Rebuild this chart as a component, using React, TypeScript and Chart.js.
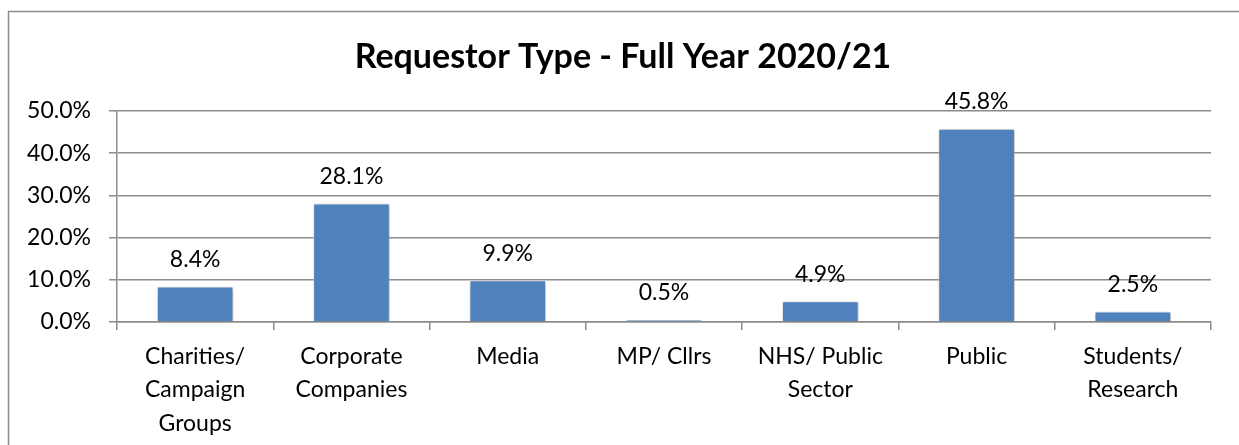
import React, { useEffect, useRef } from "react";
import { Chart, registerables } from "chart.js";

Chart.register(...registerables);

const categories: string[][] = [
  ["Charities/", "Campaign", "Groups"],
  ["Corporate", "Companies"],
  ["Media"],
  ["MP/ Cllrs"],
  ["NHS/ Public", "Sector"],
  ["Public"],
  ["Students/", "Research"],
];
const values: number[] = [8.4, 28.1, 9.9, 0.5, 4.9, 45.8, 2.5];
const yTicks: number[] = [0, 10, 20, 30, 40, 50];
const titleText = "Requestor Type - Full Year 2020/21";

const FONT = "Lato, 'Liberation Sans', sans-serif";

export default function App() {
  const ref = useRef<HTMLCanvasElement | null>(null);

  useEffect(() => {
    document.body.style.margin = "0";
    const canvas = ref.current!;
    const frame = {
      id: "frame",
      beforeDraw(chart: any) {
        const ctx = chart.ctx;
        ctx.save();
        ctx.fillStyle = "#ffffff";
        ctx.fillRect(0, 0, chart.width, chart.height);
        ctx.strokeStyle = "#8c8c8c";
        ctx.lineWidth = 1.5;
        ctx.beginPath();
        ctx.moveTo(8.5, chart.height);
        ctx.lineTo(8.5, 11.5);
        ctx.lineTo(chart.width, 11.5);
        ctx.stroke();
        // title
        ctx.fillStyle = "#000000";
        ctx.font = `bold 34px ${FONT}`;
        ctx.textAlign = "center";
        ctx.textBaseline = "middle";
        ctx.fillText(titleText, 623, 57);
        ctx.restore();
      },
    };
    const shadow = {
      id: "barShadow",
      beforeDatasetDraw(chart: any) {
        const ctx = chart.ctx;
        ctx.save();
        ctx.shadowColor = "rgba(0,0,0,0.35)";
        ctx.shadowBlur = 4;
        ctx.shadowOffsetX = 1;
        ctx.shadowOffsetY = 1;
      },
      afterDatasetDraw(chart: any) {
        chart.ctx.restore();
      },
    };
    const labels = {
      id: "valueLabels",
      afterDatasetsDraw(chart: any) {
        const ctx = chart.ctx;
        const meta = chart.getDatasetMeta(0);
        ctx.save();
        ctx.fillStyle = "#000000";
        ctx.font = `23px ${FONT}`;
        ctx.textAlign = "center";
        ctx.textBaseline = "middle";
        meta.data.forEach((bar: any, i: number) => {
          ctx.fillText(values[i].toFixed(1) + "%", bar.x, bar.y - 27);
        });
        ctx.restore();
      },
    };
    const chart = new Chart(canvas, {
      type: "bar",
      data: {
        labels: categories as any,
        datasets: [
          {
            data: values,
            backgroundColor: "#4F81BD",
            borderColor: "rgba(255,255,255,0.7)",
            borderWidth: 1,
            barPercentage: 0.49,
            categoryPercentage: 1,
          },
        ],
      },
      options: {
        animation: false,
        responsive: false,
        layout: { padding: { left: 0, right: 28, top: 111, bottom: 0 } },
        plugins: {
          legend: { display: false },
          tooltip: { enabled: false },
          title: { display: false },
        },
        scales: {
          x: {
            offset: true,
            grid: {
              offset: true,
              drawOnChartArea: false,
              drawTicks: true,
              tickLength: 8,
              color: "#8c8c8c",
              lineWidth: 1.5,
            },
            border: { color: "#8c8c8c", width: 1.5 },
            ticks: {
              color: "#000000",
              font: { family: FONT, size: 23, lineHeight: 1.45 },
              maxRotation: 0,
              autoSkip: false,
              padding: 10,
            },
            afterFit(scale: any) {
              scale.height = 123;
            },
          },
          y: {
            min: 0,
            max: 50,
            afterBuildTicks(scale: any) {
              scale.ticks = yTicks.map((v) => ({ value: v }));
            },
            grid: {
              color: "#8c8c8c",
              lineWidth: 1.5,
              tickLength: 8,
            },
            border: { color: "#8c8c8c", width: 1.5 },
            ticks: {
              color: "#000000",
              font: { family: FONT, size: 23 },
              padding: 18,
              callback: (v: any) => Number(v).toFixed(1) + "%",
            },
            afterFit(scale: any) {
              scale.width = 117;
            },
          },
        },
      },
      plugins: [frame, shadow, labels],
    });
    return () => chart.destroy();
  }, []);

  return (
    <div style={{ width: 1239, height: 445 }}>
      <canvas ref={ref} width={1239} height={445} style={{ display: "block" }} />
    </div>
  );
}
